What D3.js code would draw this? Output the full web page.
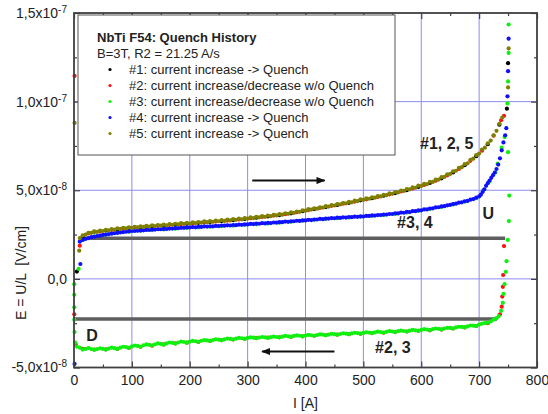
<!DOCTYPE html>
<html>
<head>
<meta charset="utf-8">
<script src="https://cdn.jsdelivr.net/npm/d3@7"></script>
<style>
  body { margin: 0; background: #fff; }
  text { font-family: "Liberation Sans", Arial, sans-serif; fill: #222; }
</style>
</head>
<body>
<div id="chart"></div>
<script>
// E values are in units of 1e-8 V/cm, I in A. Each run is a list of [I, E] points.

// #1 black: current increase -> Quench
const run1 = [[5,0.41],[15,2.35],[35,2.66],[55,2.73],[75,2.8],[95,2.87],[115,2.92],[135,2.97],[155,3.01],[175,3.06],
  [195,3.11],[215,3.16],[235,3.21],[255,3.26],[275,3.32],[295,3.38],[315,3.45],[335,3.52],[355,3.6],[375,3.7],
  [395,3.82],[415,3.94],[435,4.05],[455,4.17],[475,4.29],[495,4.43],[515,4.55],[535,4.69],[555,4.84],[575,5.0],
  [595,5.19],[615,5.41],[635,5.67],[655,6.0],[675,6.41],[695,6.92],[715,7.6],[735,8.7],[748,9.6],[750,12.17]];

// #2 red: current increase/decrease w/o Quench
const run2 = [[1,11.45],[10,1.87],[25,2.56],[45,2.68],[65,2.77],[85,2.84],[105,2.9],[125,2.95],[145,3.0],[165,3.05],
  [185,3.09],[205,3.14],[225,3.19],[245,3.24],[265,3.29],[285,3.35],[305,3.42],[325,3.49],[345,3.57],[365,3.65],
  [385,3.76],[405,3.88],[425,4.0],[445,4.12],[465,4.24],[485,4.36],[505,4.49],[525,4.62],[545,4.77],[565,4.93],
  [585,5.1],[605,5.3],[625,5.54],[645,5.84],[665,6.2],[685,6.66],[705,7.23],[725,8.08],[738,8.95],[743,9.2],
  [743,1.85],[741.5,0.22],[741,-0.45],[740,-1.0],[739,-1.57],[736,-2.0],[715,-2.5],[695,-2.66],[675,-2.74],
  [655,-2.8],[635,-2.86],[615,-2.9],[595,-2.93],[575,-2.97],[555,-3.0],[535,-3.04],[515,-3.06],[495,-3.1],
  [475,-3.12],[455,-3.15],[435,-3.18],[415,-3.21],[395,-3.24],[375,-3.27],[355,-3.3],[335,-3.32],[315,-3.34],
  [295,-3.38],[275,-3.42],[255,-3.46],[235,-3.5],[215,-3.56],[195,-3.6],[175,-3.64],[155,-3.7],[135,-3.77],
  [115,-3.83],[95,-3.9],[75,-3.95],[55,-3.98],[35,-3.99],[15,-3.95],[3,-3.7],[0.5,-2.0]];

// #3 green: current increase/decrease w/o Quench
const run3 = [[8,0.56],[15,2.2],[35,2.4],[55,2.5],[75,2.6],[95,2.66],[115,2.71],[135,2.75],[155,2.79],[175,2.83],
  [195,2.87],[215,2.9],[235,2.94],[255,2.97],[275,3.0],[295,3.04],[315,3.08],[335,3.12],[355,3.17],[375,3.22],
  [395,3.28],[415,3.33],[435,3.38],[455,3.42],[475,3.46],[495,3.5],[515,3.55],[535,3.6],[555,3.66],[575,3.74],
  [595,3.83],[615,3.94],[635,4.06],[655,4.2],[675,4.35],[695,4.55],[707,5.0],[718,5.5],[728,6.0],[732,6.5],
  [739,7.4],[744,8.0],[749,9.9],[750,11.14],[751,12.75],[751,14.35],
  [750,7.15],[752,4.7],[751.5,3.26],[749.6,2.2],[747.4,1.0],[746.2,0.4],[744,-0.3],[742.2,-0.85],[741,-1.35],
  [738,-1.8],[734,-2.1],[730,-2.22],[725,-2.3],[720,-2.4],[715,-2.47],[710,-2.5],[705,-2.52],[700,-2.58],
  [695,-2.66],[690,-2.64],[685,-2.63],[680,-2.68],[675,-2.74],[670,-2.71],[665,-2.7],[660,-2.74],[655,-2.8],
  [650,-2.77],[645,-2.76],[640,-2.8],[635,-2.85],[630,-2.82],[625,-2.8],[620,-2.84],[615,-2.89],[610,-2.86],
  [605,-2.84],[600,-2.88],[595,-2.93],[590,-2.9],[585,-2.88],[580,-2.92],[575,-2.97],[570,-2.94],[565,-2.92],
  [560,-2.95],[555,-3.0],[550,-2.97],[545,-2.95],[540,-2.99],[535,-3.03],[530,-3.0],[525,-2.98],[520,-3.02],
  [515,-3.06],[510,-3.03],[505,-3.01],[500,-3.05],[495,-3.09],[490,-3.06],[485,-3.04],[480,-3.08],[475,-3.12],
  [470,-3.09],[465,-3.07],[460,-3.11],[455,-3.15],[450,-3.12],[445,-3.1],[440,-3.14],[435,-3.18],[430,-3.15],
  [425,-3.13],[420,-3.17],[415,-3.21],[410,-3.18],[405,-3.16],[400,-3.2],[395,-3.24],[390,-3.21],[385,-3.19],
  [380,-3.22],[375,-3.27],[370,-3.24],[365,-3.22],[360,-3.26],[355,-3.3],[350,-3.28],[345,-3.26],[340,-3.29],
  [335,-3.33],[330,-3.3],[325,-3.28],[320,-3.31],[315,-3.35],[310,-3.32],[305,-3.3],[300,-3.33],[295,-3.38],
  [290,-3.35],[285,-3.33],[280,-3.37],[275,-3.42],[270,-3.39],[265,-3.37],[260,-3.41],[255,-3.46],[250,-3.43],
  [245,-3.41],[240,-3.45],[235,-3.5],[230,-3.47],[225,-3.45],[220,-3.49],[215,-3.55],[210,-3.52],[205,-3.5],
  [200,-3.54],[195,-3.6],[190,-3.56],[185,-3.54],[180,-3.59],[175,-3.65],[170,-3.61],[165,-3.59],[160,-3.64],
  [155,-3.71],[150,-3.67],[145,-3.64],[140,-3.69],[135,-3.76],[130,-3.72],[125,-3.7],[120,-3.75],[115,-3.83],
  [110,-3.78],[105,-3.76],[100,-3.81],[95,-3.89],[90,-3.85],[85,-3.83],[80,-3.88],[75,-3.95],[70,-3.91],
  [65,-3.88],[60,-3.93],[55,-3.99],[50,-3.95],[45,-3.92],[40,-3.96],[35,-4.0],[30,-3.96],[25,-3.9],[20,-3.95],
  [15,-3.99],[10,-3.88],[5,-3.82],[2,-3.6],[1,-3.0],[0.5,-2.3],[0.5,-1.6],[0.5,-0.9],[0.5,-0.3]];

// #4 blue: current increase -> Quench
const run4 = [[1,-4.8],[11,0.84],[10,2.1],[15,2.2],[20,2.25],[25,2.3],[30,2.35],[35,2.37],[40,2.42],[45,2.44],
  [50,2.48],[55,2.5],[60,2.53],[65,2.55],[70,2.58],[75,2.6],[80,2.62],[85,2.64],[90,2.66],[95,2.68],[100,2.7],
  [105,2.7],[110,2.72],[115,2.73],[120,2.74],[125,2.76],[130,2.76],[135,2.78],[140,2.78],[145,2.8],[150,2.8],
  [155,2.82],[160,2.82],[165,2.84],[170,2.84],[175,2.86],[180,2.86],[185,2.88],[190,2.88],[195,2.9],[200,2.9],
  [205,2.92],[210,2.91],[215,2.94],[220,2.93],[225,2.96],[230,2.95],[235,2.97],[240,2.96],[245,2.99],[250,2.98],
  [255,3.01],[260,3.0],[265,3.02],[270,3.01],[275,3.04],[280,3.03],[285,3.06],[290,3.05],[295,3.08],[300,3.07],
  [305,3.1],[310,3.09],[315,3.12],[320,3.11],[325,3.14],[330,3.13],[335,3.16],[340,3.15],[345,3.18],[350,3.17],
  [355,3.2],[360,3.2],[365,3.23],[370,3.22],[375,3.25],[380,3.25],[385,3.28],[390,3.27],[395,3.3],[400,3.3],
  [405,3.33],[410,3.32],[415,3.35],[420,3.35],[425,3.38],[430,3.37],[435,3.4],[440,3.4],[445,3.43],[450,3.42],
  [455,3.45],[460,3.44],[465,3.47],[470,3.46],[475,3.49],[480,3.48],[485,3.51],[490,3.5],[495,3.53],[500,3.52],
  [505,3.55],[510,3.55],[515,3.58],[520,3.57],[525,3.6],[530,3.6],[535,3.63],[540,3.63],[545,3.66],[550,3.66],
  [555,3.7],[560,3.69],[565,3.74],[570,3.73],[575,3.78],[580,3.77],[585,3.82],[590,3.82],[595,3.87],[600,3.87],
  [605,3.92],[610,3.92],[615,3.97],[620,3.98],[625,4.03],[630,4.04],[635,4.09],[640,4.1],[645,4.15],[650,4.17],
  [655,4.22],[660,4.24],[665,4.3],[670,4.32],[675,4.38],[680,4.4],[685,4.47],[690,4.5],[695,4.58],[700,4.65],
  [703,4.75],[706,4.9],[709,5.05],[712,5.25],[715,5.4],[718,5.55],[721,5.7],[724,5.85],[727,6.0],[730,6.2],
  [733,6.45],[736,6.8],[739,7.25],[742,7.7],[745,8.1],[747,8.5],[749,10.3],[750,11.72],[751,13.55]];

// #5 olive: current increase -> Quench
const run5 = [[1,8.8],[9,1.59],[10,2.3],[15,2.45],[20,2.5],[25,2.6],[30,2.6],[35,2.68],[40,2.65],[45,2.73],
  [50,2.7],[55,2.77],[60,2.74],[65,2.81],[70,2.78],[75,2.85],[80,2.82],[85,2.88],[90,2.85],[95,2.91],[100,2.88],
  [105,2.94],[110,2.9],[115,2.96],[120,2.93],[125,2.99],[130,2.95],[135,3.02],[140,2.98],[145,3.04],[150,3.0],
  [155,3.06],[160,3.02],[165,3.09],[170,3.05],[175,3.11],[180,3.07],[185,3.14],[190,3.1],[195,3.16],[200,3.12],
  [205,3.19],[210,3.15],[215,3.21],[220,3.17],[225,3.24],[230,3.2],[235,3.26],[240,3.22],[245,3.29],[250,3.25],
  [255,3.31],[260,3.27],[265,3.34],[270,3.3],[275,3.37],[280,3.33],[285,3.4],[290,3.36],[295,3.43],[300,3.4],
  [305,3.47],[310,3.43],[315,3.5],[320,3.47],[325,3.54],[330,3.5],[335,3.57],[340,3.54],[345,3.61],[350,3.58],
  [355,3.65],[360,3.62],[365,3.7],[370,3.67],[375,3.75],[380,3.72],[385,3.8],[390,3.78],[395,3.86],[400,3.85],
  [405,3.93],[410,3.91],[415,3.98],[420,3.96],[425,4.04],[430,4.02],[435,4.1],[440,4.08],[445,4.16],[450,4.14],
  [455,4.22],[460,4.2],[465,4.28],[470,4.26],[475,4.34],[480,4.32],[485,4.41],[490,4.39],[495,4.48],[500,4.46],
  [505,4.54],[510,4.52],[515,4.6],[520,4.58],[525,4.67],[530,4.65],[535,4.74],[540,4.72],[545,4.82],[550,4.8],
  [555,4.9],[560,4.88],[565,4.98],[570,4.96],[575,5.07],[580,5.05],[585,5.16],[590,5.14],[595,5.26],[600,5.24],
  [605,5.36],[610,5.35],[615,5.48],[620,5.47],[625,5.6],[630,5.6],[635,5.74],[640,5.75],[645,5.9],[650,5.92],
  [655,6.07],[660,6.1],[665,6.26],[670,6.3],[675,6.47],[680,6.52],[685,6.71],[690,6.78],[695,6.98],[700,7.07],
  [705,7.3],[710,7.4],[715,7.65],[720,7.8],[725,8.1],[730,8.35],[735,8.75],[740,9.1],[750,10.8],[751,13.0]];

const runs = [run1, run2, run3, run4, run5];
const runColors = ['#000000', '#ff1010', '#10f010', '#1010ff', '#808000'];
const legendTitle = 'NbTi F54: Quench History';
const legendSubtitle = 'B=3T, R2 = 21.25 A/s';
const legendLabels = [
  '#1: current increase -> Quench',
  '#2: current increase/decrease w/o Quench',
  '#3: current increase/decrease w/o Quench',
  '#4: current increase -> Quench',
  '#5: current increase -> Quench'
];

const xTicks = [0, 100, 200, 300, 400, 500, 600, 700, 800];
const xMinorTicks = [50, 150, 250, 350, 450, 550, 650, 750];
const yTicks = [-5, 0, 5, 10, 15];
const yTickBase = ['-5,0x10', '0,0', '5,0x10', '1,0x10', '1,5x10'];
const yTickExp = ['-8', '', '-8', '-7', '-7'];
const yMinorTicks = [-2.5, 2.5, 7.5, 12.5];
const xGrid = [100, 200, 300, 400, 500, 600, 700];
const yGrid = [0, 5, 10];

// U and D levels (grey bars), arrows and curve labels
const levelStartI = [15, 0];
const levelEndI = [745, 731];
const levelE = [2.29, -2.27];
const arrowStartI = [308, 450];
const arrowEndI = [433, 325];
const arrowE = [5.55, -4.1];
const noteText = ['#1, 2, 5', '#3, 4', 'U', 'D', '#2, 3'];
const noteI = [644, 589, 716, 31, 551];
const noteE = [7.67, 3.21, 3.72, -3.16, -3.83];

const width = 548;
const height = 414;

const x = d3.scaleLinear().domain([0, 800]).range([74, 537]);
const y = d3.scaleLinear().domain([-5, 15]).range([367.5, 13]);

const svg = d3.select('#chart')
              .append('svg')
                .attr('width', width)
                .attr('height', height);

const defs = svg.append('defs');
defs.append('marker')
      .attr('id', 'head')
      .attr('viewBox', '0 0 10 8')
      .attr('refX', 9)
      .attr('refY', 4)
      .attr('markerWidth', 4.5)
      .attr('markerHeight', 3.6)
      .attr('orient', 'auto')
    .append('path')
      .attr('d', 'M0,0 L10,4 L0,8 Z')
      .attr('fill', '#111');

// grid
svg.append('g')
   .selectAll('line')
   .data(xGrid)
   .join('line')
     .attr('x1', d => x(d)).attr('x2', d => x(d))
     .attr('y1', y(15)).attr('y2', y(-5))
     .attr('stroke', '#8c8cf2')
     .attr('stroke-width', 1);

svg.append('g')
   .selectAll('line')
   .data(yGrid)
   .join('line')
     .attr('x1', x(0)).attr('x2', x(800))
     .attr('y1', d => y(d)).attr('y2', d => y(d))
     .attr('stroke', '#8c8cf2')
     .attr('stroke-width', 1);

// grey U / D levels
svg.append('g')
   .selectAll('line')
   .data(levelE)
   .join('line')
     .attr('x1', (d, i) => x(levelStartI[i]))
     .attr('x2', (d, i) => x(levelEndI[i]))
     .attr('y1', d => y(d)).attr('y2', d => y(d))
     .attr('stroke', '#5e5e5e')
     .attr('stroke-width', 3.5);

// data points
runs.forEach((run, k) => {
  svg.append('g')
     .selectAll('circle')
     .data(run)
     .join('circle')
       .attr('cx', d => x(d[0]))
       .attr('cy', d => y(d[1]))
       .attr('r', 2.1)
       .attr('fill', runColors[k]);
});

// arrows
svg.append('g')
   .selectAll('line')
   .data(arrowE)
   .join('line')
     .attr('x1', (d, i) => x(arrowStartI[i]))
     .attr('x2', (d, i) => x(arrowEndI[i]))
     .attr('y1', d => y(d)).attr('y2', d => y(d))
     .attr('stroke', '#111')
     .attr('stroke-width', 2)
     .attr('marker-end', 'url(#head)');

// curve labels
svg.append('g')
   .selectAll('text')
   .data(noteText)
   .join('text')
     .attr('x', (d, i) => x(noteI[i]))
     .attr('y', (d, i) => y(noteE[i]))
     .attr('dy', '0.36em')
     .attr('text-anchor', 'middle')
     .attr('font-size', '16px')
     .attr('font-weight', 'bold')
     .text(d => d);

// axes: ticks inward on all four sides
function styleAxis(g) {
  g.select('.domain').remove();
  g.selectAll('.tick line').attr('stroke', '#404040').attr('stroke-width', 1.2);
  g.selectAll('.tick text').attr('fill', '#222').attr('font-size', '14px')
   .attr('font-family', '"Liberation Sans", Arial, sans-serif');
}

svg.append('g')
   .attr('transform', `translate(0, ${y(-5)})`)
   .call(d3.axisBottom(x).tickValues(xTicks).tickSize(-6).tickPadding(8).tickFormat(d => d))
   .call(styleAxis);
svg.append('g')
   .attr('transform', `translate(0, ${y(-5)})`)
   .call(d3.axisBottom(x).tickValues(xMinorTicks).tickSize(-3).tickFormat(''))
   .call(styleAxis);
svg.append('g')
   .attr('transform', `translate(0, ${y(15)})`)
   .call(d3.axisTop(x).tickValues(xTicks).tickSize(-6).tickFormat(''))
   .call(styleAxis);
svg.append('g')
   .attr('transform', `translate(0, ${y(15)})`)
   .call(d3.axisTop(x).tickValues(xMinorTicks).tickSize(-3).tickFormat(''))
   .call(styleAxis);

const yAxis = svg.append('g')
   .attr('transform', `translate(${x(0)}, 0)`)
   .call(d3.axisLeft(y).tickValues(yTicks).tickSize(-6).tickPadding(7))
   .call(styleAxis);
yAxis.selectAll('.tick text').each(function(d) {
  const k = yTicks.indexOf(d);
  const t = d3.select(this).text(null);
  t.append('tspan').text(yTickBase[k]);
  if (yTickExp[k]) {
    t.append('tspan').attr('dy', '-0.5em').attr('font-size', '10px').text(yTickExp[k]);
  }
});
svg.append('g')
   .attr('transform', `translate(${x(0)}, 0)`)
   .call(d3.axisLeft(y).tickValues(yMinorTicks).tickSize(-3).tickFormat(''))
   .call(styleAxis);
svg.append('g')
   .attr('transform', `translate(${x(800)}, 0)`)
   .call(d3.axisRight(y).tickValues(yTicks).tickSize(-6).tickFormat(''))
   .call(styleAxis);
svg.append('g')
   .attr('transform', `translate(${x(800)}, 0)`)
   .call(d3.axisRight(y).tickValues(yMinorTicks).tickSize(-3).tickFormat(''))
   .call(styleAxis);

// frame
svg.append('rect')
   .attr('x', x(0)).attr('y', y(15))
   .attr('width', x(800) - x(0)).attr('height', y(-5) - y(15))
   .attr('fill', 'none')
   .attr('stroke', '#404040')
   .attr('stroke-width', 1.8);

// axis titles
svg.append('text')
   .attr('x', x(400))
   .attr('y', 408)
   .attr('text-anchor', 'middle')
   .attr('font-size', '14px')
   .text('I [A]');

svg.append('text')
   .attr('transform', 'translate(26, 320) rotate(-90)')
   .attr('text-anchor', 'start')
   .attr('font-size', '14px')
   .style('white-space', 'pre')
   .text('E = U/L  [V/cm]');

// legend
const legend = svg.append('g');
legend.append('rect')
      .attr('x', 78).attr('y', 15)
      .attr('width', 317).attr('height', 140)
      .attr('fill', '#fff')
      .attr('stroke', '#555')
      .attr('stroke-width', 1);
legend.append('text')
      .attr('x', 97).attr('y', 42)
      .attr('font-size', '13px')
      .attr('font-weight', 'bold')
      .text(legendTitle);
legend.append('text')
      .attr('x', 97).attr('y', 58)
      .attr('font-size', '13px')
      .text(legendSubtitle);
legendLabels.forEach((label, i) => {
  legend.append('circle')
        .attr('cx', 110).attr('cy', 69.5 + i * 16)
        .attr('r', 1.6)
        .attr('fill', runColors[i]);
  legend.append('text')
        .attr('x', 129).attr('y', 74 + i * 16)
        .attr('font-size', '13px')
        .text(label);
});
</script>
</body>
</html>
